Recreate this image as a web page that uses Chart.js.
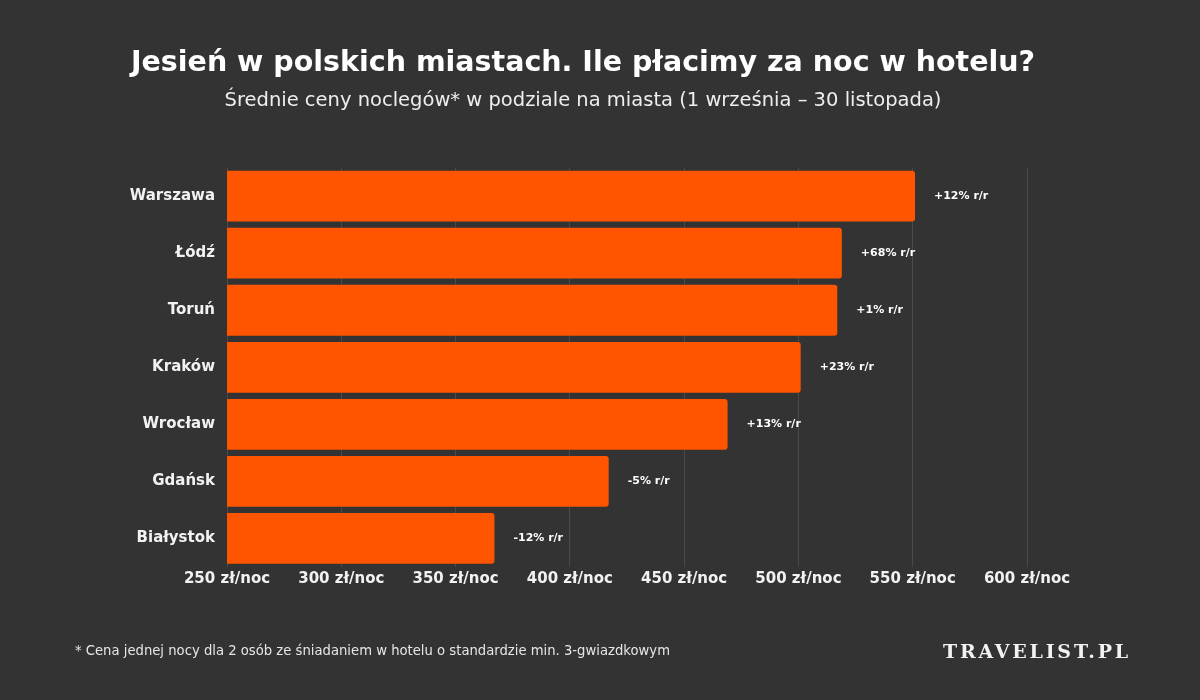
<!DOCTYPE html>
<html>
<head>
<meta charset="utf-8">
<script src="https://cdn.jsdelivr.net/npm/chart.js@4"></script>
<style>
  html, body { margin: 0; padding: 0; background: #333333; }
  #wrap { position: relative; width: 1200px; height: 700px; }
  #note { position: absolute; left: 75px; top: 643px; font: 13.2px "DejaVu Sans", sans-serif; color: #e6e6e6; }
  #logo { position: absolute; left: 943px; top: 640px; font: bold 19px "DejaVu Serif", serif; letter-spacing: 2.8px; color: #f2f2f2; }
</style>
</head>
<body>
<div id="wrap">
  <canvas id="bar-chartcanvas" width="1200" height="700"></canvas>
  <div id="note">* Cena jednej nocy dla 2 osób ze śniadaniem w hotelu o standardzie min. 3-gwiazdkowym</div>
  <div id="logo">TRAVELIST.PL</div>
</div>
<script>
// Data
var cities = ["Warszawa", "Łódź", "Toruń", "Kraków", "Wrocław", "Gdańsk", "Białystok"];
var prices = [551, 519, 517, 501, 469, 417, 367];
var changes = ["+12% r/r", "+68% r/r", "+1% r/r", "+23% r/r", "+13% r/r", "-5% r/r", "-12% r/r"];
var ticks = [250, 300, 350, 400, 450, 500, 550, 600];

var FONT = "'DejaVu Sans', sans-serif";

//Draws the y/y change next to each bar
var changeLabels = {
    id: "changeLabels",
    afterDatasetsDraw: function(chart) {
        var ctx = chart.ctx;
        var meta = chart.getDatasetMeta(0);
        ctx.save();
        ctx.fillStyle = "#ffffff";
        ctx.font = "bold 11px " + FONT;
        ctx.textAlign = "left";
        ctx.textBaseline = "middle";
        meta.data.forEach(function(bar, i) {
            ctx.fillText(changes[i], bar.x + 19, bar.y);
        });
        ctx.restore();
    }
};

var ctx = document.getElementById("bar-chartcanvas");

var chart = new Chart(ctx, {
    type: "bar",
    data: {
        labels: cities,
        datasets: [{
            data: prices,
            backgroundColor: "#ff5500",
            borderRadius: 3,
            borderSkipped: "start",
            barPercentage: 0.89,
            categoryPercentage: 1
        }]
    },
    options: {
        indexAxis: "y",
        responsive: false,
        animation: false,
        layout: { padding: { left: 94, right: 128, top: 0, bottom: 109 } },
        plugins: {
            legend: { display: false },
            tooltip: { enabled: false },
            title: {
                display: true,
                text: "Jesień w polskich miastach. Ile płacimy za noc w hotelu?",
                color: "#ffffff",
                font: { family: FONT, size: 28.5, weight: "bold" },
                padding: { top: 46, bottom: 9 }
            },
            subtitle: {
                display: true,
                text: "Średnie ceny noclegów* w podziale na miasta (1 września – 30 listopada)",
                color: "#eeeeee",
                font: { family: FONT, size: 19.5 },
                padding: { top: 0, bottom: 55 }
            }
        },
        scales: {
            x: {
                min: 250,
                max: 600,
                afterBuildTicks: function(axis) {
                    axis.ticks = ticks.map(function(v) { return { value: v }; });
                },
                ticks: {
                    color: "#f2f2f2",
                    font: { family: FONT, size: 15, weight: "bold" },
                    padding: 3,
                    maxRotation: 0,
                    callback: function(v) { return v + " zł/noc"; }
                },
                grid: { color: "#4a4a4a", drawTicks: false },
                border: { display: false }
            },
            y: {
                afterFit: function(axis) { axis.width = 133; },
                ticks: {
                    color: "#f2f2f2",
                    font: { family: FONT, size: 15, weight: "bold" },
                    padding: 12
                },
                grid: { display: false, drawTicks: false },
                border: { display: false }
            },
            // empty spacer on the right, keeps room for the last tick label
            spacer: {
                type: "category",
                position: "right",
                labels: [""],
                afterFit: function(axis) { axis.width = 45; },
                ticks: { display: false },
                grid: { display: false, drawTicks: false },
                border: { display: false }
            }
        }
    },
    plugins: [changeLabels]
});
</script>
</body>
</html>
